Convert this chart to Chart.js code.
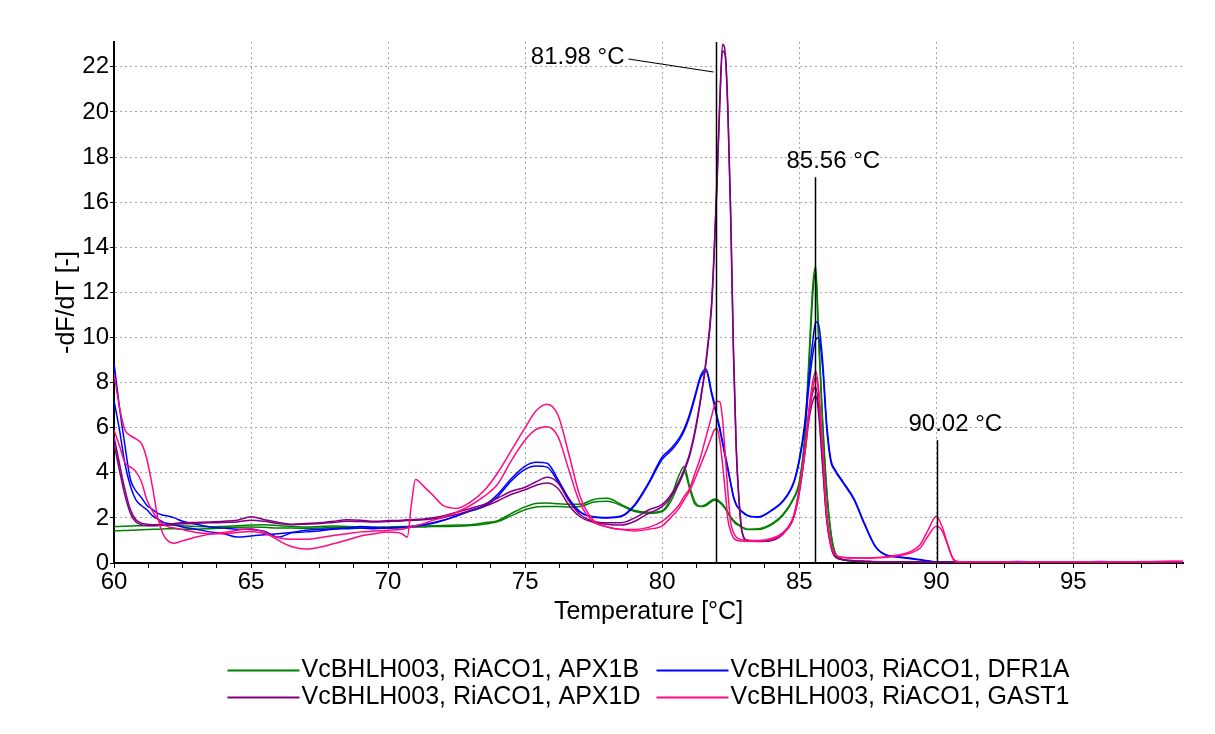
<!DOCTYPE html>
<html>
<head>
<meta charset="utf-8">
<script src="https://cdn.jsdelivr.net/npm/chart.js@4.4.1/dist/chart.umd.min.js"></script>
<style>
html,body{margin:0;padding:0;background:#fff;}
canvas{display:block;}
</style>
</head>
<body>
<canvas id="c" width="1215" height="734"></canvas>
<script>
// ---------- DATA ----------
const temps = [60,60.2,60.4,60.6,60.8,61,61.2,61.4,61.6,61.8,
62,62.2,62.5,63,63.5,64,64.5,65,65.5,66,
66.5,67,67.5,68,68.5,69,69.5,70,70.5,70.7,
70.85,71,71.3,71.6,72,72.5,73,73.5,74,74.5,
75,75.4,75.8,76.2,76.6,77,77.5,78,78.5,79,
79.5,80,80.3,80.6,80.8,81,81.2,81.4,81.6,81.8,
81.9,82,82.1,82.2,82.3,82.4,82.5,82.6,82.7,82.8,
82.9,83.1,83.5,84,84.4,84.8,85,85.2,85.35,85.5,
85.6,85.7,85.85,86,86.15,86.3,86.6,87,87.4,87.8,
88.2,88.6,89,89.4,89.7,90,90.2,90.4,90.6,90.8,
91.2,92,93,94,95,96,97,98,99];

const greenA = [1.62,1.62,1.63,1.64,1.65,1.65,1.66,1.66,1.67,1.68,
1.68,1.67,1.65,1.62,1.6,1.62,1.65,1.68,1.7,1.66,
1.62,1.6,1.62,1.64,1.62,1.6,1.58,1.6,1.62,1.62,
1.63,1.63,1.64,1.65,1.66,1.68,1.7,1.78,1.88,2.2,
2.49,2.64,2.66,2.63,2.6,2.6,2.82,2.87,2.6,2.33,
2.25,2.32,2.85,3.85,4.28,3.4,2.7,2.52,2.6,2.78,
2.84,2.82,2.72,2.62,2.45,2.25,2.05,1.9,1.78,1.7,
1.6,1.5,1.52,1.75,2.15,2.9,3.6,5.6,9.0,12.4,
13.15,10.4,6.4,3.3,1.4,0.5,0.15,0.08,0.06,0.05,
0.05,0.05,0.05,0.05,0.05,0.05,0.05,0.05,0.05,0.05,
0.05,0.05,0.05,0.05,0.05,0.05,0.05,0.05,0.05];

const greenB = [1.42,1.43,1.44,1.45,1.46,1.47,1.48,1.5,1.5,1.51,
1.52,1.52,1.5,1.5,1.52,1.55,1.58,1.6,1.58,1.55,
1.55,1.54,1.55,1.58,1.56,1.55,1.55,1.56,1.58,1.6,
1.6,1.6,1.6,1.62,1.62,1.63,1.66,1.72,1.84,2.1,
2.36,2.48,2.5,2.5,2.48,2.5,2.7,2.74,2.55,2.28,
2.2,2.28,2.7,3.5,4.05,3.3,2.6,2.5,2.55,2.72,
2.78,2.76,2.68,2.56,2.4,2.2,2.0,1.85,1.72,1.66,
1.6,1.48,1.48,1.7,2.1,2.85,3.5,5.4,8.6,12.0,
12.9,10.0,6.2,3.2,1.35,0.45,0.14,0.08,0.06,0.05,
0.05,0.05,0.05,0.05,0.05,0.05,0.05,0.05,0.05,0.05,
0.05,0.05,0.05,0.05,0.05,0.05,0.05,0.05,0.05];

const blueA = [8.86,6.9,5.2,3.7,3.2,2.9,2.55,2.38,2.2,2.12,
2.07,2.0,1.85,1.72,1.6,1.55,1.5,1.48,1.4,1.15,
1.35,1.45,1.5,1.52,1.55,1.62,1.58,1.56,1.58,1.6,
1.62,1.65,1.7,1.78,1.9,2.1,2.33,2.55,3.05,3.75,
4.3,4.47,4.42,3.7,2.85,2.28,2.05,2.02,2.08,2.6,
3.55,4.7,5.05,5.5,5.95,6.6,7.45,8.3,8.6,7.6,
7.1,6.5,6.0,5.4,4.8,4.2,3.55,2.96,2.6,2.42,
2.3,2.12,2.05,2.35,2.75,3.6,4.6,6.2,8.2,9.9,
10.7,10.6,9.0,6.2,4.6,4.15,3.6,2.85,1.7,0.7,
0.35,0.28,0.22,0.15,0.1,0.05,0.05,0.06,0.05,0.05,
0.06,0.05,0.07,0.05,0.06,0.05,0.06,0.05,0.06];

const blueB = [7.2,5.9,4.4,3.4,2.8,2.55,2.36,2.1,1.95,1.8,
1.75,1.7,1.6,1.5,1.38,1.3,1.15,1.2,1.25,1.3,
1.35,1.38,1.42,1.5,1.52,1.55,1.52,1.55,1.56,1.58,
1.6,1.62,1.68,1.75,1.88,2.08,2.3,2.5,2.95,3.65,
4.15,4.3,4.25,3.6,2.8,2.25,2.03,2.0,2.06,2.55,
3.5,4.6,4.95,5.4,5.85,6.5,7.35,8.2,8.5,7.5,
7.0,6.45,5.9,5.3,4.7,4.1,3.5,2.92,2.58,2.4,
2.28,2.1,2.03,2.33,2.72,3.55,4.5,6.0,7.8,9.3,
9.9,10.0,8.7,6.0,4.5,4.1,3.55,2.8,1.65,0.68,
0.33,0.26,0.2,0.14,0.08,0.05,0.05,0.05,0.06,0.05,
0.05,0.06,0.05,0.06,0.05,0.07,0.05,0.06,0.05];

const purpleA = [5.6,4.4,3.25,2.36,1.92,1.77,1.72,1.7,1.7,1.72,
1.72,1.75,1.78,1.8,1.82,1.85,1.9,2.05,1.92,1.8,
1.72,1.75,1.78,1.85,1.92,1.9,1.85,1.88,1.9,1.92,
1.92,1.93,1.95,2.0,2.08,2.25,2.42,2.6,2.88,3.18,
3.36,3.6,3.8,3.55,2.75,2.15,1.85,1.78,1.78,2.0,
2.35,2.6,3.0,3.6,4.15,4.85,5.9,7.3,9.0,11.5,
14.0,17.0,20.5,23.0,22.6,20.0,15.5,9.5,5.2,2.9,
1.5,1.02,0.97,1.02,1.3,2.1,3.2,5.0,6.6,7.6,
7.8,7.0,4.5,2.0,0.8,0.3,0.15,0.1,0.08,0.06,
0.05,0.04,0.04,0.04,0.03,0.03,0.03,0.03,0.03,0.03,
0.03,0.03,0.03,0.03,0.03,0.03,0.03,0.03,0.03];

const purpleB = [5.3,4.1,3.0,2.2,1.82,1.7,1.66,1.65,1.66,1.68,
1.7,1.72,1.74,1.76,1.78,1.8,1.82,1.9,1.85,1.75,
1.7,1.72,1.75,1.8,1.85,1.84,1.82,1.84,1.86,1.88,
1.88,1.9,1.92,1.95,2.02,2.15,2.32,2.5,2.75,3.05,
3.25,3.45,3.55,3.3,2.55,2.05,1.8,1.72,1.68,1.85,
2.2,2.5,2.9,3.5,4.05,4.75,5.8,7.2,8.9,11.3,
13.8,16.8,20.3,22.7,22.5,19.8,15.2,9.2,5.0,2.8,
1.45,1.0,0.95,1.0,1.28,2.05,3.1,4.8,6.3,7.2,
7.4,6.7,4.3,1.9,0.75,0.28,0.14,0.09,0.07,0.05,
0.04,0.04,0.04,0.03,0.03,0.03,0.03,0.03,0.03,0.03,
0.03,0.03,0.03,0.03,0.03,0.03,0.03,0.03,0.03];

const pinkA = [8.4,6.9,5.9,5.65,5.5,5.3,4.6,3.4,2.0,1.25,
0.95,0.88,0.98,1.15,1.28,1.35,1.45,1.52,1.35,1.0,
0.72,0.62,0.7,0.85,1.02,1.2,1.3,1.37,1.3,1.15,
2.6,3.7,3.4,3.05,2.55,2.42,2.7,3.2,4.0,5.0,
6.0,6.75,7.04,6.55,4.8,2.96,1.88,1.6,1.5,1.49,
1.58,1.85,2.15,2.55,2.95,3.3,4.0,4.7,5.6,6.5,
6.95,7.17,7.15,6.4,4.8,3.1,1.8,1.35,1.15,1.07,
1.03,1.0,1.0,1.1,1.35,2.1,3.3,5.0,6.8,8.1,
8.5,7.8,5.2,2.3,0.9,0.4,0.25,0.22,0.22,0.24,
0.28,0.35,0.48,0.8,1.46,2.07,1.65,0.9,0.22,0.06,
0.05,0.06,0.05,0.06,0.05,0.05,0.06,0.07,0.08];

const pinkB = [5.9,5.2,4.45,4.25,4.05,3.6,2.8,2.3,1.95,1.7,
1.6,1.55,1.48,1.35,1.3,1.3,1.35,1.4,1.3,1.12,
1.05,1.05,1.12,1.22,1.3,1.38,1.42,1.45,1.5,1.55,
1.6,1.65,1.75,1.88,2.02,2.25,2.55,2.95,3.5,4.55,
5.45,5.92,6.04,5.6,4.1,2.65,1.82,1.6,1.48,1.42,
1.5,1.65,2.0,2.4,2.8,3.2,3.75,4.35,4.95,5.6,
5.9,5.95,5.45,4.4,3.2,1.9,1.4,1.12,1.02,0.98,
0.97,0.96,0.97,1.05,1.3,2.0,3.15,4.8,6.5,7.8,
8.25,7.6,5.0,2.15,0.85,0.38,0.24,0.22,0.21,0.23,
0.26,0.32,0.42,0.65,1.2,1.63,1.45,0.85,0.2,0.05,
0.05,0.05,0.06,0.05,0.05,0.06,0.05,0.06,0.07];

const seriesNames = ['VcBHLH003, RiACO1, APX1B', 'VcBHLH003, RiACO1, DFR1A', 'VcBHLH003, RiACO1, APX1D', 'VcBHLH003, RiACO1, GAST1'];
const seriesColors = ['#008000', '#0000ff', '#800080', '#ff0a80'];

const markerTemps = [81.98, 85.56, 90.02];
const markerTops = [23.1, 17.1, 5.45];
const markerLabels = ['81.98 °C', '85.56 °C', '90.02 °C'];

const xTitle = 'Temperature [°C]';
const yTitle = '-dF/dT [-]';

// ---------- CHART ----------
const FONT = '"Liberation Sans", Arial, sans-serif';
Chart.defaults.font.family = FONT;
Chart.defaults.font.size = 24;
Chart.defaults.color = '#000';

function pts(vals) { return temps.map((t, i) => ({ x: t, y: vals[i] })); }
function ds(vals, colorIdx) {
  return { label: seriesNames[colorIdx], data: pts(vals), borderColor: seriesColors[colorIdx],
           backgroundColor: seriesColors[colorIdx], fill: false };
}
const datasets = [
  ds(pinkA, 3), ds(pinkB, 3),
  ds(purpleA, 2), ds(purpleB, 2),
  ds(blueA, 1), ds(blueB, 1),
  ds(greenA, 0), ds(greenB, 0)
];

function isMajor(v) { return Math.abs(v % 5) < 1e-6; }

const markerPlugin = {
  id: 'markers',
  afterDatasetsDraw(chart) {
    const { ctx, scales: { x, y } } = chart;
    ctx.save();
    ctx.strokeStyle = '#000';
    ctx.fillStyle = '#000';
    ctx.lineWidth = 1.5;
    ctx.font = '24px ' + FONT;
    const y0 = y.getPixelForValue(0);
    markerTemps.forEach((t, i) => {
      const px = Math.round(x.getPixelForValue(t)) + 0.5;
      const top = y.getPixelForValue(markerTops[i]);
      ctx.beginPath();
      ctx.moveTo(px, y0);
      ctx.lineTo(px, top);
      ctx.stroke();
      ctx.textBaseline = 'middle';
      if (i === 0) {
        ctx.textAlign = 'right';
        const tx = px - 92, ty = top + 15;
        ctx.fillText(markerLabels[i], tx, ty);
        ctx.lineWidth = 1.2;
        ctx.beginPath();
        ctx.moveTo(tx + 4, ty + 2);
        ctx.lineTo(px - 3, top + 30);
        ctx.stroke();
        ctx.lineWidth = 1.5;
      } else {
        ctx.textAlign = 'left';
        ctx.fillText(markerLabels[i], px - 29, top - 16);
      }
    });
    ctx.restore();
  }
};

const legendPlugin = {
  id: 'customLegend',
  afterDraw(chart) {
    const ctx = chart.ctx, ca = chart.chartArea;
    ctx.save();
    ctx.font = '25px ' + FONT;
    const lineLen = 72, gap = 2, colGap = 16;
    const textW = Math.max(...seriesNames.map(n => ctx.measureText(n).width));
    const colW = lineLen + gap + textW;
    const total = 2 * colW + colGap;
    const x0 = (ca.left + ca.right) / 2 - total / 2;
    const rowY = [ca.bottom + 107, ca.bottom + 134];
    seriesNames.forEach((name, i) => {
      const col = i % 2, row = Math.floor(i / 2);
      const x = x0 + col * (colW + colGap), yy = rowY[row];
      ctx.strokeStyle = seriesColors[i];
      ctx.lineWidth = 2;
      ctx.beginPath();
      ctx.moveTo(x, yy + 0.5);
      ctx.lineTo(x + lineLen, yy + 0.5);
      ctx.stroke();
      ctx.fillStyle = '#000';
      ctx.textAlign = 'left';
      ctx.textBaseline = 'middle';
      ctx.fillText(name, x + lineLen + gap, yy);
    });
    ctx.restore();
  }
};

new Chart(document.getElementById('c'), {
  type: 'line',
  data: { datasets },
  options: {
    responsive: false,
    animation: false,
    devicePixelRatio: 1,
    layout: { padding: { top: 42, right: 32, bottom: 101, left: 0 } },
    plugins: { legend: { display: false }, tooltip: { enabled: false } },
    elements: {
      point: { radius: 0, hoverRadius: 0 },
      line: { borderWidth: 1.5, cubicInterpolationMode: 'monotone' }
    },
    scales: {
      x: {
        type: 'linear', min: 60, max: 99,
        ticks: {
          stepSize: 1.25, includeBounds: false, autoSkip: false, maxRotation: 0, padding: 0,
          color: '#000', font: { size: 24 },
          callback: v => isMajor(v) ? String(v) : ''
        },
        grid: {
          color: c => (c.tick && isMajor(c.tick.value)) ? '#a6a6a6' : 'rgba(0,0,0,0)',
          tickColor: '#000', tickLength: 5, lineWidth: 1
        },
        border: { color: '#000', width: 2, dash: [2, 3] },
        title: { display: true, text: xTitle, color: '#000', font: { size: 25 }, padding: { top: 0, bottom: 6 } },
        afterFit: s => { s.height = 70; }
      },
      y: {
        min: 0, max: 23.1,
        ticks: { stepSize: 2, includeBounds: false, padding: 1, color: '#000', font: { size: 24 } },
        grid: { color: '#a6a6a6', tickColor: '#000', tickLength: 4, lineWidth: 1 },
        border: { color: '#000', width: 2, dash: [2, 3] },
        title: { display: true, text: yTitle, color: '#000', font: { size: 25 }, padding: { top: 52, bottom: 0 } },
        afterFit: s => { s.width = 114; }
      }
    }
  },
  plugins: [markerPlugin, legendPlugin]
});
</script>
</body>
</html>
